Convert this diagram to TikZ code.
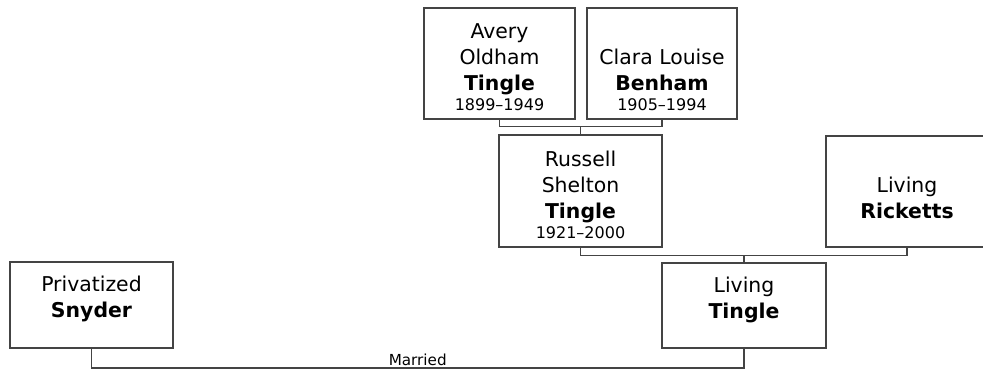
\documentclass[tikz,border=0pt]{standalone}
\usepackage{fontspec}
\setmainfont{DejaVu Sans}
\definecolor{linegray}{HTML}{444444}
\tikzset{
  pbox/.style 2 args={draw=linegray, line width=1pt, fill=white, inner sep=0pt, outer sep=0pt,
    minimum width=#1*0.75pt, minimum height=#2*0.75pt},
  ptext/.style={align=center, inner sep=0pt, anchor=north, font=\fontsize{15.3}{19.5}\selectfont},
  conn/.style={draw=linegray, line width=1pt},
  marr/.style={font=\fontsize{11.4}{13}\selectfont, inner sep=1.5pt}
}
\newcommand{\yrs}[1]{\\[-4.6pt]{\fontsize{12}{15}\selectfont #1}}
\begin{document}
\begin{tikzpicture}[x=0.75pt,y=-0.75pt]
\useasboundingbox (0,0) rectangle (983,370);
\clip (0,0) rectangle (983,370);
% boxes
\node[pbox={151}{111}] (avery) at (499.5,63.5) {};
\node[pbox={150}{111}] (clara) at (662,63.5) {};
\node[pbox={163}{112}] (russell) at (580.5,191) {};
\node[pbox={162}{111}] (ricketts) at (907,191.5) {};
\node[pbox={164}{85}] (tingle) at (744,305.5) {};
\node[pbox={163}{86}] (snyder) at (91.5,305) {};
% texts
\node[ptext] (averyt) at (499.5,23) {Avery\\Oldham\\\textbf{Tingle}\yrs{1899–1949}};
\node[ptext] (clarat) at (662,48.5) {Clara Louise\\\textbf{Benham}\yrs{1905–1994}};
\node[ptext] (russellt) at (580.5,150.5) {Russell\\Shelton\\\textbf{Tingle}\yrs{1921–2000}};
\node[ptext] (rickettst) at (907,176.5) {Living\\\textbf{Ricketts}};
\node[ptext] (tinglet) at (744,276.5) {Living\\\textbf{Tingle}};
\node[ptext] (snydert) at (91.5,275.5) {Privatized\\\textbf{Snyder}};
% connectors
\coordinate (u1) at (580.5,126.5);
\coordinate (u2) at (744,255.5);
\draw[conn] (avery.south) |- (u1) -| (clara.south);
\draw[conn] (u1) -- (russell.north);
\draw[conn] (russell.south) |- (u2) -| (ricketts.south);
\draw[conn] (u2) -- (tingle.north);
\draw[conn] (snyder.south) -- ++(0,20) coordinate (mleft) -| node[pos=0.25, above, marr] (married) {Married} (tingle.south);
\end{tikzpicture}
\end{document}
